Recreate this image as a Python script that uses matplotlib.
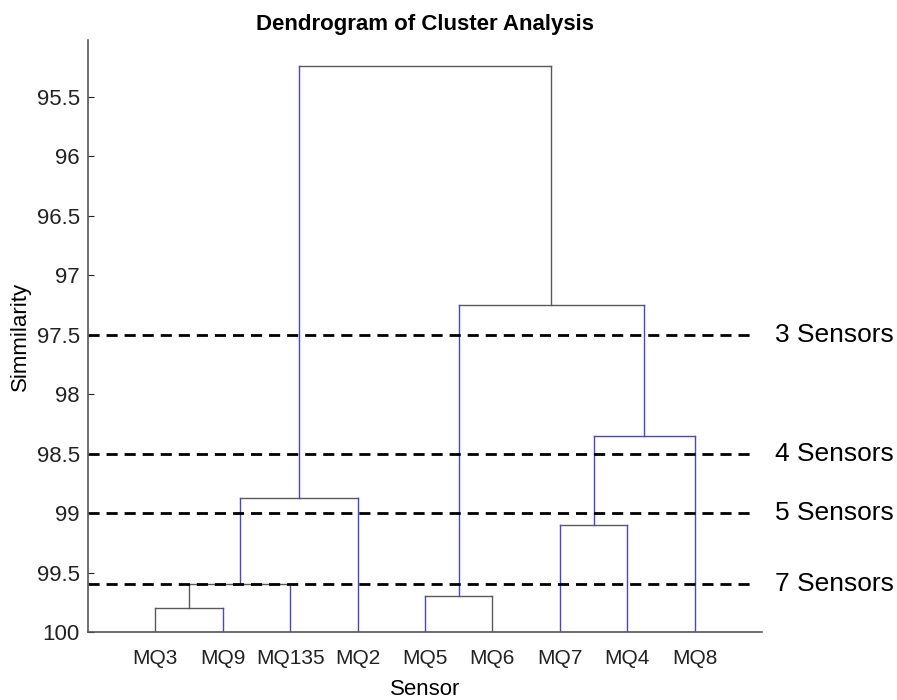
import matplotlib

matplotlib.use("Agg")
import matplotlib.pyplot as plt

# leaf order along x and the merge heights (similarity, %)
sensors = ["MQ3", "MQ9", "MQ135", "MQ2", "MQ5", "MQ6", "MQ7", "MQ4", "MQ8"]
# each merge: (left node, right node, similarity); node ids 0-8 are leaves,
# 9+ are earlier merges in this list
merges = [
    (0, 1, 99.80),
    (9, 2, 99.60),
    (10, 3, 98.87),
    (4, 5, 99.70),
    (6, 7, 99.10),
    (13, 8, 98.35),
    (12, 14, 97.25),
    (11, 15, 95.24),
]
# colours of (left leg, crossbar, right leg) for each merge
BLUE = "#4a46c8"
GRAY = "#5a5a5a"
merge_colors = [
    (GRAY, GRAY, BLUE),
    (GRAY, GRAY, BLUE),
    (BLUE, GRAY, BLUE),
    (BLUE, GRAY, GRAY),
    (BLUE, GRAY, BLUE),
    (BLUE, BLUE, BLUE),
    (BLUE, GRAY, BLUE),
    (BLUE, GRAY, GRAY),
]

cut_levels = [97.5, 98.5, 99.0, 99.6]
cut_labels = ["3 Sensors", "4 Sensors", "5 Sensors", "7 Sensors"]

plt.rcParams["font.family"] = ["Liberation Sans", "DejaVu Sans"]

fig = plt.figure(figsize=(8.97, 7.0), dpi=100)
ax = fig.add_axes([0.0981, 0.0971, 0.7514, 0.8458])

node_x = {i: i + 1.0 for i in range(len(sensors))}
node_y = {i: 100.0 for i in range(len(sensors))}
for k, ((a, b, h), (cl, ct, cr)) in enumerate(zip(merges, merge_colors)):
    xa, xb = node_x[a], node_x[b]
    ax.plot([xa, xa], [node_y[a], h], color=cl, lw=1.0)
    ax.plot([xa, xb], [h, h], color=ct, lw=1.0)
    ax.plot([xb, xb], [node_y[b], h], color=cr, lw=1.0)
    node_x[len(sensors) + k] = (xa + xb) / 2
    node_y[len(sensors) + k] = h

for level, label in zip(cut_levels, cut_labels):
    ax.plot([0, 9.9], [level, level], color="black", lw=2.0, ls=(0, (4, 2.5)))
    ax.text(10.2, level, label, va="center", ha="left", fontsize=19,
            clip_on=False)

ax.set_xlim(0, 10)
ax.set_ylim(100, 95.02)
ax.set_xticks(range(1, len(sensors) + 1))
ax.set_xticklabels(sensors)
ax.set_yticks([95.5, 96, 96.5, 97, 97.5, 98, 98.5, 99, 99.5, 100])
ax.set_yticklabels(["95.5", "96", "96.5", "97", "97.5", "98", "98.5", "99", "99.5", "100"])
ax.tick_params(axis="x", length=0, labelsize=15, pad=12, colors="#222222")
ax.tick_params(axis="y", direction="in", length=4, labelsize=16, pad=6, colors="#222222")
for side in ("top", "right"):
    ax.spines[side].set_visible(False)
for side in ("left", "bottom"):
    ax.spines[side].set_color("#555555")
    ax.spines[side].set_linewidth(1.2)

ax.set_title("Dendrogram of Cluster Analysis", fontsize=16, fontweight="bold", pad=7)
ax.set_xlabel("Sensor", fontsize=16, labelpad=8)
ax.set_ylabel("Simmilarity", fontsize=16, labelpad=4)

fig.savefig("out.png", dpi=100)
